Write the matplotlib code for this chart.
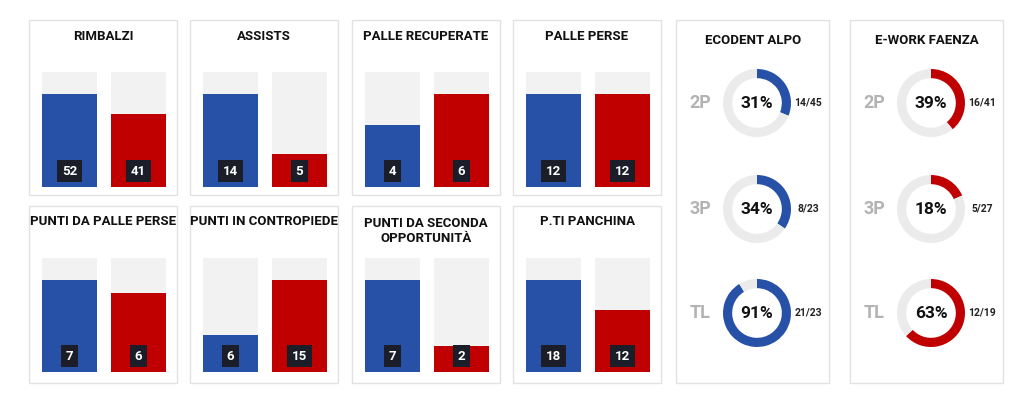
import matplotlib
matplotlib.use("Agg")
import matplotlib.pyplot as plt
from matplotlib.patches import Rectangle

plt.rcParams['font.family'] = ['Roboto', 'DejaVu Sans']

# bar panels
titles = ["RIMBALZI", "ASSISTS", "PALLE RECUPERATE", "PALLE PERSE",
          "PUNTI DA PALLE PERSE", "PUNTI IN CONTROPIEDE",
          "PUNTI DA SECONDA\nOPPORTUNITÀ", "P.TI PANCHINA"]
home_vals = [52, 14, 4, 12, 7, 6, 7, 18]
away_vals = [41, 5, 6, 12, 6, 15, 2, 12]

# shooting donuts
teams = ["ECODENT ALPO", "E-WORK FAENZA"]
shot_types = ["2P", "3P", "TL"]
home_made = [14, 8, 21]
home_att = [45, 23, 23]
away_made = [16, 5, 12]
away_att = [41, 27, 19]

BLUE = "#2751a7"
RED = "#c00000"
TRACK = "#f2f2f2"
RING = "#ebebeb"
BORDER = "#e2e2e2"

W, H = 1024, 396
fig = plt.figure(figsize=(W / 100, H / 100), dpi=100)
fig.patch.set_facecolor("white")


def px_axes(x, y, w, h):
    return fig.add_axes([x / W, 1 - (y + h) / H, w / W, h / H])


def box(x, y, w, h):
    fig.patches.append(Rectangle((x / W, 1 - (y + h) / H), w / W, h / H,
                                 transform=fig.transFigure, fill=False,
                                 ec=BORDER, lw=1.0))


col_x = [29, 190, 352, 513]
rows = [(20, 175, 72, 115), (206, 177, 258, 114)]  # panel top, height, track top, track height

for i, title in enumerate(titles):
    r, c = divmod(i, 4)
    ptop, ph, ttop, th = rows[r]
    px = col_x[c]
    box(px, ptop, 148, ph)
    if "\n" in title:
        fig.text((px + 74) / W, 1 - (ptop + 25) / H, title, ha="center", va="center",
                 fontsize=9.5, fontweight="bold", color="#111111", linespacing=1.2)
    else:
        fig.text((px + 74) / W, 1 - (ptop + 16) / H, title, ha="center", va="center",
                 fontsize=9.5, fontweight="bold", color="#111111")

    ax = px_axes(px + 13, ttop, 124, th)
    top = max(home_vals[i], away_vals[i]) * 1.235
    ax.bar([0, 1], [top, top], width=0.8, color=TRACK, zorder=1)
    ax.bar([0, 1], [home_vals[i], away_vals[i]], width=0.8,
           color=[BLUE, RED], zorder=2)
    for xi, v in zip([0, 1], [home_vals[i], away_vals[i]]):
        ax.annotate(str(v), (xi, 0), xytext=(0, 11.5), textcoords="offset points",
                    ha="center", va="center", fontsize=9.5, fontweight="bold",
                    color="white", zorder=3,
                    bbox=dict(boxstyle="square,pad=0.35", fc="#1b1e28", ec="none"))
    ax.set_xlim(-0.4, 1.4)
    ax.set_ylim(0, top)
    ax.axis("off")

# donut panels
donut_x = [676, 850]
for t, team in enumerate(teams):
    bx = donut_x[t]
    box(bx, 20, 153, 363)
    fig.text((bx + 77) / W, 1 - 40 / H, team, ha="center", va="center",
             fontsize=9.5, fontweight="bold", color="#111111")
    made = home_made if t == 0 else away_made
    att = home_att if t == 0 else away_att
    color = BLUE if t == 0 else RED
    cx = bx + 81
    for k, st in enumerate(shot_types):
        cy = [103, 209, 313][k]
        frac = made[k] / att[k]
        ax = px_axes(cx - 34, cy - 34, 68, 68)
        ax.pie([frac, 1 - frac], startangle=90, counterclock=False,
               colors=[color, RING], radius=1.0,
               wedgeprops=dict(width=0.27, linewidth=0))
        ax.set_xlim(-1, 1)
        ax.set_ylim(-1, 1)
        ax.set_aspect("equal")
        ax.axis("off")
        ax.text(0, 0, f"{int(frac * 100)}%", ha="center", va="center",
                fontsize=12.5, fontweight="bold", color="#111111")
        fig.text((bx + 24) / W, 1 - cy / H, st, ha="center", va="center",
                 fontsize=13, fontweight="bold", color="#b3b3b3")
        fig.text((bx + 132) / W, 1 - cy / H, f"{made[k]}/{att[k]}", ha="center",
                 va="center", fontsize=7.5, fontweight="bold", color="#222222")

fig.savefig("out.png", dpi=100, facecolor="white")
